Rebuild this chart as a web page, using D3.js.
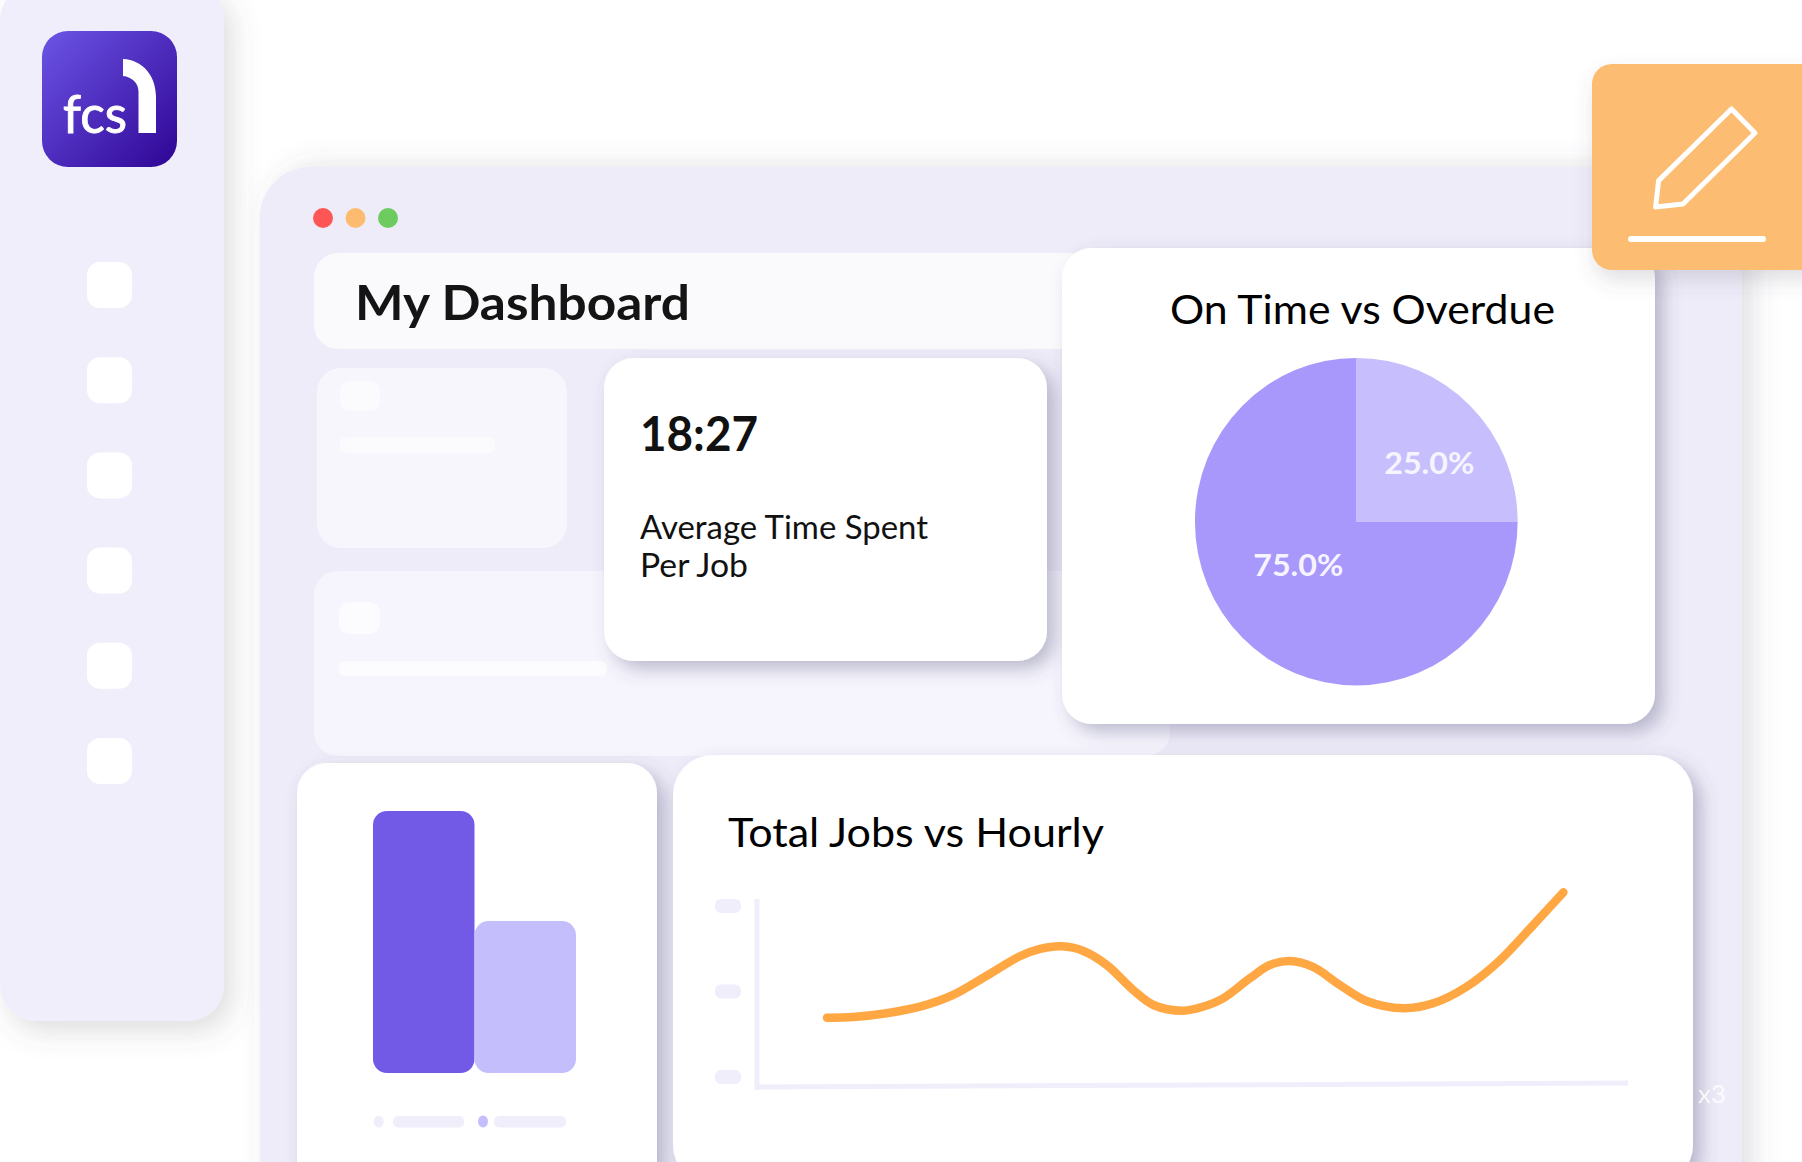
<!DOCTYPE html>
<html lang="en">
<head>
<meta charset="UTF-8">
<title>My Dashboard</title>
<script src="https://d3js.org/d3.v7.min.js"></script>
<style>
  html, body { margin: 0; background: #fff; }
  svg { display: block; }
  text { font-family: Lato, "Open Sans", sans-serif; }
</style>
</head>
<body>
<div id="my_dataviz"></div>
<script>
// pie values
var pieLabels = ["25.0%", "75.0%"];
var pieValues = [25, 75];
var pieColors = ["#c7bffd", "#a998fb"];

// bar card (no labels in the picture, heights read relative to the tall bar)
var barNames = ["a", "b"];
var barValues = [100, 58];
var barColors = ["#735ae6", "#c5befc"];

// line card, hour on x, jobs on y (estimated from the curve)
var lineHours = [0, 0.86, 1.94, 3.03, 4.11, 5.2, 6.28, 6.94, 7.64, 8.35, 9.11, 9.97, 10.63, 11.6, 12.24, 12.9, 13.77, 14.42, 15.08, 15.84, 16.7, 17.57, 18.77, 19.74, 20.83, 21.92, 23.0, 23.98];
var lineJobs = [3.47, 3.51, 3.73, 4.11, 4.8, 5.92, 7.06, 7.49, 7.64, 7.37, 6.55, 5.09, 4.21, 3.88, 4.11, 4.6, 5.77, 6.55, 6.78, 6.42, 5.38, 4.44, 4.02, 4.31, 5.28, 6.84, 8.89, 10.8];
var yTicks = [0, 5, 10];

var width = 1802, height = 1162;

var svg = d3.select("#my_dataviz")
  .append("svg")
    .attr("width", width)
    .attr("height", height);

var defs = svg.append("defs");

function shadow(id, dx, dy, blur, color, op) {
  var f = defs.append("filter").attr("id", id)
    .attr("x", "-30%").attr("y", "-30%").attr("width", "160%").attr("height", "160%");
  f.append("feDropShadow")
    .attr("dx", dx).attr("dy", dy).attr("stdDeviation", blur)
    .attr("flood-color", color).attr("flood-opacity", op);
}
shadow("sideShadow", 8, 10, 14, "#555555", 0.2);
shadow("panelShadow", 10, 0, 14, "#555566", 0.18);
shadow("cardShadow", 8, 8, 9, "#55557a", 0.36);
shadow("orangeShadow", 3, 10, 10, "#555566", 0.18);

var grad = defs.append("linearGradient").attr("id", "logoGrad")
  .attr("x1", "0%").attr("y1", "0%").attr("x2", "100%").attr("y2", "100%");
grad.append("stop").attr("offset", "0%").attr("stop-color", "#6c55e6");
grad.append("stop").attr("offset", "100%").attr("stop-color", "#2f0595");

function box(x, y, w, h, r, fill, filter) {
  var b = svg.append("rect")
    .attr("x", x).attr("y", y).attr("width", w).attr("height", h)
    .attr("rx", r).attr("fill", fill);
  if (filter) b.attr("filter", "url(#" + filter + ")");
  return b;
}

function label(x, y, str, size, weight, fill, len) {
  var t = svg.append("text")
    .attr("x", x).attr("y", y)
    .attr("font-size", size).attr("font-weight", weight)
    .attr("fill", fill).text(str);
  if (len) t.attr("textLength", len).attr("lengthAdjust", "spacingAndGlyphs");
  return t;
}

// main window panel
box(260, 167, 1482, 1100, 50, "#eeecf8", "panelShadow");

// sidebar
box(0, -16, 224, 1037, 36, "#f0eefb", "sideShadow");
box(42, 31, 135, 136, 26, "url(#logoGrad)");
label(63, 133, "fcs", 52, 400, "#fff", 64).attr("stroke", "#fff").attr("stroke-width", 0.9);
svg.append("path")
  .attr("d", "M123,59 C143,60 156,76 156,97 L156,133 L138.5,133 L138.5,92 C138.5,83 132,77 123,76 Z")
  .attr("fill", "#fff");
d3.range(6).forEach(function(i) {
  box(87, 262 + i * 95.2, 45, 46, 13, "#fff");
});

// window buttons
[[323, "#fe5555"], [355.5, "#fdbb70"], [388, "#6dcb60"]].forEach(function(d) {
  svg.append("circle").attr("cx", d[0]).attr("cy", 218).attr("r", 10).attr("fill", d[1]);
});

// faded placeholder cards behind the real ones
box(314, 571, 856, 185, 24, "#f6f5fd");
box(314, 253, 780, 96, 24, "#fafafd");
box(317, 368, 250, 180, 24, "#f7f6fd");
box(340, 381, 40, 30, 10, "#fbfbfe");
box(340, 437, 155, 16, 6, "#fbfbfe");
box(339, 602, 41, 32, 10, "#fcfcfe");
box(339, 661, 268, 15, 6, "#fcfcfe");

label(355, 320, "My Dashboard", 47, 700, "#141414", 335);

// average time card
box(604, 358, 443, 303, 30, "#fff", "cardShadow");
label(640, 451, "18:27", 48, 700, "#111", 118);
label(640, 539, "Average Time Spent", 32, 400, "#111", 288);
label(640, 577, "Per Job", 32, 400, "#111", 108);

// pie card
box(1062, 248, 593, 476, 30, "#fff", "cardShadow");
label(1170, 324, "On Time vs Overdue", 40, 400, "#000", 385);

var pieX = 1356.3, pieY = 521.7, pieR = 163.8;
var arc = d3.arc().innerRadius(0).outerRadius(pieR);
var pieData = d3.pie().sort(null)(pieValues);
var pieG = svg.append("g").attr("transform", "translate(" + pieX + "," + pieY + ")");
pieG.selectAll("path")
  .data(pieData)
  .enter()
  .append("path")
    .attr("d", arc)
    .attr("transform", "scale(0.985,1)")
    .attr("fill", function(d, i) { return pieColors[i]; });
// label offsets from the pie centre, not quite on the slice bisector in the picture
var labelOffsets = [[73, -59], [-58, 43]];
pieG.selectAll("text")
  .data(pieData)
  .enter()
  .append("text")
    .attr("transform", function(d, i) { return "translate(" + labelOffsets[i] + ")"; })
    .attr("text-anchor", "middle")
    .attr("dy", "0.36em")
    .attr("font-size", 30)
    .attr("font-weight", 700)
    .attr("fill", "#f6f4ff")
    .attr("textLength", 90)
    .attr("lengthAdjust", "spacingAndGlyphs")
    .text(function(d, i) { return pieLabels[i]; });

// orange note card
box(1592, 64, 260, 206, 20, "#fcbc72", "orangeShadow");
svg.append("path")
  .attr("d", "M1731.5,109 L1755,133 L1683,204 L1655.6,207 L1658.6,180.6 Z")
  .attr("fill", "none").attr("stroke", "#fff").attr("stroke-width", 5).attr("stroke-linejoin", "round");
svg.append("line")
  .attr("x1", 1631).attr("x2", 1763).attr("y1", 239).attr("y2", 239)
  .attr("stroke", "#fff").attr("stroke-width", 6).attr("stroke-linecap", "round");

// bar card
box(297, 763, 360, 460, 30, "#fff", "cardShadow");
var xBar = d3.scaleBand().domain(barNames).range([373, 576]).padding(0);
var yBar = d3.scaleLinear().domain([0, 100]).range([1073, 811]);
svg.append("g").selectAll("rect")
  .data(barValues)
  .enter()
  .append("rect")
    .attr("x", function(d, i) { return xBar(barNames[i]); })
    .attr("y", function(d) { return yBar(d); })
    .attr("width", xBar.bandwidth())
    .attr("height", function(d) { return yBar(0) - yBar(d); })
    .attr("rx", 14)
    .attr("fill", function(d, i) { return barColors[i]; });
// legend placeholders
svg.append("ellipse").attr("cx", 378.7).attr("cy", 1121.5).attr("rx", 5).attr("ry", 6).attr("fill", "#f0eefb");
box(393, 1116, 71, 11.5, 5, "#f0eefb");
svg.append("ellipse").attr("cx", 483).attr("cy", 1121.5).attr("rx", 5).attr("ry", 6).attr("fill", "#c5befc");
box(494, 1116, 72, 11.5, 5, "#f0eefb");

// line card
box(673, 755, 1020, 430, 40, "#fff", "cardShadow");
label(728, 847, "Total Jobs vs Hourly", 40, 400, "#000", 376);

var xLine = d3.scaleLinear().domain([0, 24]).range([827, 1564]);
var yLine = d3.scaleLinear().domain([0, 10]).range([1077, 906]);

// axes, tick labels in the picture are blank chips so they are drawn as rects
svg.append("line")
  .attr("x1", 757).attr("x2", 757).attr("y1", 899).attr("y2", 1090)
  .attr("stroke", "#f0eefb").attr("stroke-width", 5);
svg.append("line")
  .attr("x1", 755).attr("x2", 1628).attr("y1", 1087).attr("y2", 1083)
  .attr("stroke", "#f0eefb").attr("stroke-width", 5);
svg.append("g").selectAll("rect")
  .data(yTicks)
  .enter()
  .append("rect")
    .attr("x", 715).attr("width", 26)
    .attr("y", function(d) { return yLine(d) - 7; })
    .attr("height", 14).attr("rx", 6)
    .attr("fill", "#f0eefb");

var line = d3.line()
  .x(function(d, i) { return xLine(lineHours[i]); })
  .y(function(d) { return yLine(d); })
  .curve(d3.curveCatmullRom.alpha(0.5));
svg.append("path")
  .datum(lineJobs)
  .attr("d", line)
  .attr("fill", "none")
  .attr("stroke", "#ffa743")
  .attr("stroke-width", 8.5)
  .attr("stroke-linecap", "round");

label(1698, 1103, "x3", 25, 400, "#fff", 28).attr("opacity", 0.8);
</script>
</body>
</html>
